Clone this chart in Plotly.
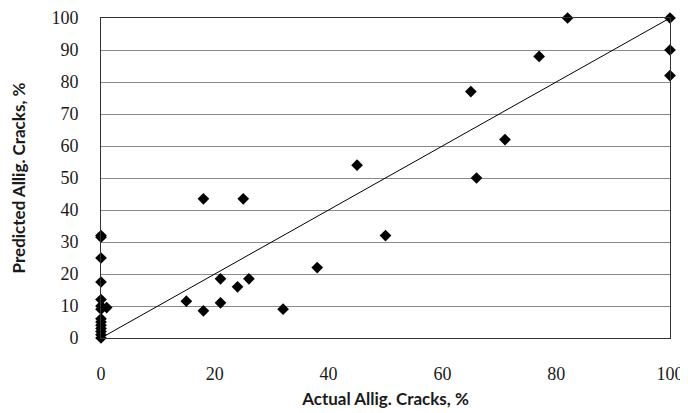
import plotly.graph_objects as go

# Actual vs predicted alligator cracking (%)
actual = [0, 0, 0, 0, 0, 0, 0, 0, 0, 0, 0, 0, 0, 0, 1,
          15, 18, 18, 21, 21, 24, 25, 26, 32, 38, 45, 50,
          65, 66, 71, 77, 82, 100, 100, 100]
predicted = [0, 1, 2, 3, 4, 5, 6, 9, 10, 12, 17.5, 25, 32, 31.5, 9.5,
             11.5, 8.5, 43.5, 18.5, 11, 16, 43.5, 18.5, 9, 22, 54, 32,
             77, 50, 62, 88, 100, 100, 90, 82]

line_x = [0, 100]
line_y = [0, 100]

x_ticks = [0, 20, 40, 60, 80, 100]
y_ticks = [0, 10, 20, 30, 40, 50, 60, 70, 80, 90, 100]

fig = go.Figure()

fig.add_trace(go.Scatter(
    x=line_x, y=line_y,
    mode='lines',
    line=dict(color='black', width=1),
    showlegend=False,
    hoverinfo='skip'))

fig.add_trace(go.Scatter(
    x=actual, y=predicted,
    mode='markers',
    marker=dict(symbol='diamond', size=9, color='black'),
    showlegend=False,
    cliponaxis=False))

tick_font = dict(family='Liberation Serif', size=18, color='#1a1a1a')
title_font = dict(family='Lato', size=17, color='#1a1a1a')

# page body has an 8px margin, so the figure is sized to fit the window
fig.update_layout(
    width=680,
    height=405,
    autosize=False,
    paper_bgcolor='white',
    plot_bgcolor='white',
    margin=dict(l=93, r=18, t=10, b=75),
    xaxis=dict(
        range=[0, 100],
        tickvals=x_ticks,
        tickfont=tick_font,
        ticklabelstandoff=19,
        ticklabeloverflow='allow',
        showgrid=False,
        zeroline=False,
        showline=True,
        linecolor='#333333',
        linewidth=1,
        mirror=True,
        automargin=False,
        title=dict(text='<b>Actual Allig. Cracks, %</b>', font=title_font, standoff=10),
    ),
    yaxis=dict(
        range=[0, 100],
        tickvals=y_ticks,
        tickfont=tick_font,
        ticklabelstandoff=18,
        ticklabeloverflow='allow',
        showgrid=True,
        gridcolor='#8a8a8a',
        gridwidth=1,
        zeroline=False,
        showline=True,
        linecolor='#333333',
        linewidth=1,
        mirror=True,
        automargin=False,
        title=dict(text='<b>Predicted Allig. Cracks, %</b>', font=title_font, standoff=24),
    ),
)

fig.write_html("out.html")
